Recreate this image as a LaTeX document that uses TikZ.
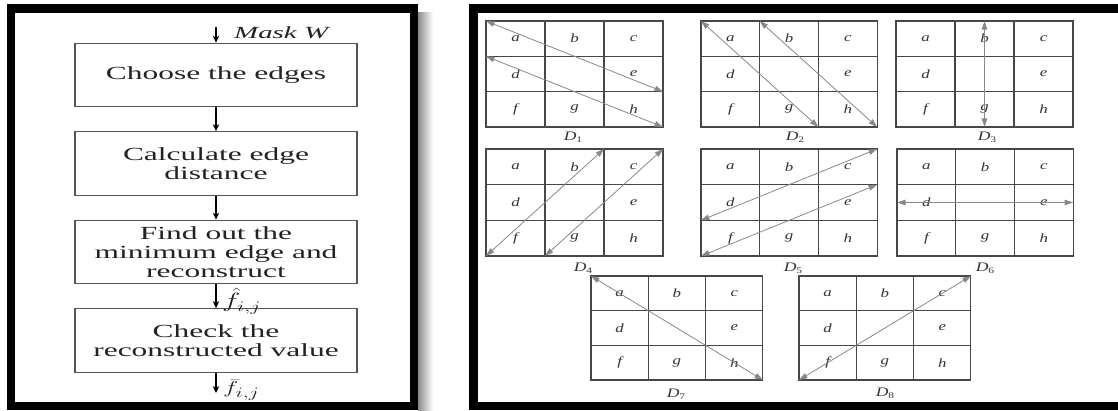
\documentclass[tikz,border=0pt]{standalone}
\usepackage{fontspec}
\usepackage{graphicx}
\setmainfont{Liberation Serif}[FakeStretch=1.7]
\newfontfamily\gridfont{Liberation Serif}[FakeStretch=1.35]
\usetikzlibrary{arrows.meta,calc}
\definecolor{boxline}{HTML}{555555}
\definecolor{txt}{HTML}{222222}
\definecolor{gridc}{HTML}{474747}
\definecolor{arrc}{HTML}{888888}
\definecolor{lettc}{HTML}{333333}
\newcommand{\mygrid}[8]{%
  \foreach \i in {0,...,3}{\foreach \j in {0,...,3}{\coordinate (#1-\i\j) at ({#2+\i*#4},{#3+\j*#5});}}
  \draw[gridline] (#1-00) rectangle (#1-33);
  \draw[gridline] (#1-10) -- (#1-13) (#1-20) -- (#1-23) (#1-01) -- (#1-31) (#1-02) -- (#1-32);
  \node[cellletter] (#1-a) at ($(#1-00)!0.5!(#1-11)$) {a};
  \node[cellletter] (#1-b) at ($(#1-10)!0.5!(#1-21)$) {b};
  \node[cellletter] (#1-c) at ($(#1-20)!0.5!(#1-31)$) {c};
  \node[cellletter] (#1-d) at ($(#1-01)!0.5!(#1-12)$) {d};
  \node[cellletter] (#1-e) at ($(#1-21)!0.5!(#1-32)$) {e};
  \node[cellletter] (#1-f) at ($(#1-02)!0.5!(#1-13)$) {f};
  \node[cellletter] (#1-g) at ($(#1-12)!0.5!(#1-23)$) {g};
  \node[cellletter] (#1-h) at ($(#1-22)!0.5!(#1-33)$) {h};
  \node[gridlabel] (#1-lab) at (#6,#7) {\itshape D\raisebox{-0.35ex}{\upshape\fontsize{8.5}{8.5}\selectfont #8}};
}
\begin{document}
\begin{tikzpicture}[x=1pt,y=-1pt,
  flowbox/.style={draw=boxline, line width=1.3pt, minimum width=282pt, minimum height=63.5pt,
    inner sep=0pt, align=center, text=txt, font=\fontsize{18.5}{19}\selectfont},
  flowarrow/.style={draw=black, line width=1.1pt, -{Stealth[length=7pt,width=6.5pt]}},
  gridline/.style={draw=gridc, line width=1.1pt},
  cellletter/.style={text=lettc, inner sep=0pt, font=\gridfont\fontsize{12.5}{12.5}\selectfont\itshape},
  gridlabel/.style={text=lettc, inner sep=0pt, font=\gridfont\fontsize{13}{13}\selectfont},
  duo/.style={draw=arrc, line width=0.8pt, {Triangle[length=8.5pt,width=5.5pt]}-{Triangle[length=8.5pt,width=5.5pt]}, color=arrc},
  frame/.style={draw=black, line width=8.5pt}
]
\useasboundingbox (0,0) rectangle (1118,410);
% shadow of left panel
\shade[left color=black!45, right color=white] (418,12) rectangle (433,410);
% frames
\draw[frame] (11,8.5) rectangle (414,406);
\draw[frame] (473.5,8.5) rectangle (1135,406);

% flowchart
\node[flowbox] (b1) at (216,75) {Choose the edges};
\node[flowbox] (b2) at (216,163.5) {Calculate edge\\distance};
\node[flowbox] (b3) at (216,252) {Find out the\\minimum edge and\\reconstruct};
\node[flowbox] (b4) at (216,340.5) {Check the\\reconstructed value};
\coordinate (in) at (216,27);
\coordinate (out) at (216,393);
\draw[flowarrow] (in) -- (b1);
\draw[flowarrow] (b1) -- (b2);
\draw[flowarrow] (b2) -- (b3);
\draw[flowarrow] (b3) -- (b4);
\draw[flowarrow] (b4) -- (out);
\node[anchor=west, text=txt, inner sep=0pt, font=\fontsize{17}{17}\selectfont\itshape] (maskw) at (234,33) {Mask W};
\node[anchor=west, text=txt, inner sep=0pt, font=\fontsize{20}{20}\selectfont] (fhat) at (222,301) {\scalebox{1.5}[1]{$\hat{f}_{i,j}$}};
\node[anchor=west, text=txt, inner sep=0pt, font=\fontsize{19}{19}\selectfont] (fbar) at (223,390) {\scalebox{1.5}[1]{$\bar{f}_{i,j}$}};

% grids
\mygrid{D1}{486}{21}{59}{35.33}{573}{137}{1}
\mygrid{D2}{701}{21}{58.7}{35.33}{795}{137}{2}
\mygrid{D3}{896}{21}{59}{35.33}{987}{137}{3}
\mygrid{D4}{486}{149}{59}{35.67}{583}{268}{4}
\mygrid{D5}{701}{149}{58.7}{35.67}{793}{268}{5}
\mygrid{D6}{897}{149}{58.7}{35.67}{985}{268}{6}
\mygrid{D7}{591}{276}{57.3}{34.67}{676}{394}{7}
\mygrid{D8}{799}{276}{57.3}{34.67}{885}{393}{8}

% direction arrows
\draw[duo] (D1-00) -- (D1-32);
\draw[duo] (D1-01) -- (D1-33);
\draw[duo] (D2-00) -- (D2-23);
\draw[duo] (D2-10) -- (D2-33);
\coordinate (D3-t) at ($(D3-10)!0.5!(D3-20)$);
\coordinate (D3-b) at ($(D3-13)!0.5!(D3-23)$);
\draw[duo] (D3-t) -- (D3-b);
\draw[duo] (D4-20) -- (D4-03);
\draw[duo] (D4-30) -- (D4-13);
\draw[duo] (D5-02) -- (D5-30);
\draw[duo] (D5-03) -- (D5-31);
\coordinate (D6-l) at ($(D6-01)!0.5!(D6-02)$);
\coordinate (D6-r) at ($(D6-31)!0.5!(D6-32)$);
\draw[duo] (D6-l) -- (D6-r);
\draw[duo] (D7-00) -- (D7-33);
\draw[duo] (D8-03) -- (D8-30);
\end{tikzpicture}
\end{document}
